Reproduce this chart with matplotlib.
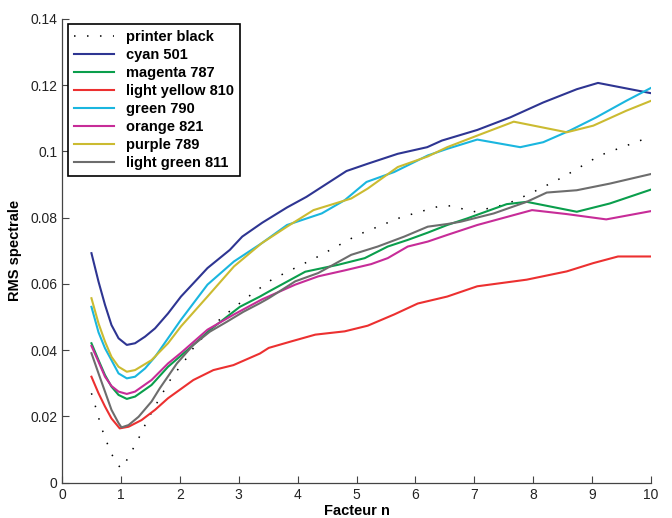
import numpy as np
import matplotlib.pyplot as plt

plt.rcParams['font.family'] = ['Liberation Sans', 'DejaVu Sans']

# printer black (dotted)
black_x = [0.5, 0.56, 0.67, 0.81, 0.9, 1.0, 1.08, 1.28, 1.45, 1.65, 1.86, 2.09, 2.2, 2.6, 2.91, 3.24, 3.56,
           4.35, 5.02, 5.75, 6.37, 6.6, 6.99, 7.55, 7.95, 8.51, 9.13, 10]
black_y = [0.027, 0.0235, 0.0166, 0.0099, 0.0066, 0.0043, 0.0062, 0.0126, 0.0189, 0.0253, 0.0317, 0.037,
           0.040, 0.0481, 0.0527, 0.0572, 0.0613, 0.0683, 0.0748, 0.0801, 0.0833, 0.0836, 0.0818, 0.0841,
           0.0873, 0.0923, 0.0988, 0.1045]

cyan_x = [0.5, 0.62, 0.73, 0.84, 0.96, 1.1, 1.24, 1.41, 1.58, 1.8, 2.02, 2.23, 2.47, 2.85, 3.06, 3.4, 3.82,
          4.15, 4.83, 5.19, 5.7, 6.2, 6.45, 7.05, 7.61, 8.17, 8.74, 9.1, 10]
cyan_y = [0.0693, 0.0607, 0.0537, 0.0476, 0.0436, 0.0416, 0.0421, 0.0441, 0.0466, 0.0511, 0.0562, 0.0602,
          0.0648, 0.0703, 0.0743, 0.0785, 0.0831, 0.0863, 0.0941, 0.0963, 0.0993, 0.1013, 0.1033, 0.1065,
          0.1103, 0.1148, 0.1188, 0.1207, 0.1176]

magenta_x = [0.5, 0.62, 0.73, 0.84, 0.96, 1.1, 1.24, 1.52, 1.8, 2.23, 2.51, 2.8, 3.02, 3.36, 3.51, 4.13,
             4.69, 5.14, 5.53, 5.87, 6.21, 6.54, 6.88, 7.55, 7.89, 8.74, 9.3, 10]
magenta_y = [0.0421, 0.037, 0.0325, 0.029, 0.0265, 0.0253, 0.026, 0.0295, 0.035, 0.0416, 0.0461, 0.0501,
             0.0531, 0.0562, 0.0577, 0.0637, 0.0658, 0.0678, 0.0713, 0.0733, 0.0755, 0.0778, 0.0798, 0.0841,
             0.0848, 0.0818, 0.0843, 0.0885]

lyellow_x = [0.5, 0.62, 0.73, 0.84, 0.98, 1.13, 1.35, 1.58, 1.8, 2.23, 2.57, 2.91, 3.36, 3.51, 3.9, 4.3,
             4.8, 5.19, 5.64, 6.04, 6.54, 7.05, 7.89, 8.57, 9.02, 9.44, 10]
lyellow_y = [0.032, 0.027, 0.023, 0.0194, 0.0164, 0.0169, 0.0189, 0.022, 0.0255, 0.031, 0.034, 0.0355,
             0.039, 0.0407, 0.0427, 0.0447, 0.0457, 0.0474, 0.0508, 0.0541, 0.0562, 0.0593, 0.0613, 0.0638,
             0.0663, 0.0683, 0.0683]

green_x = [0.5, 0.62, 0.73, 0.84, 0.96, 1.1, 1.24, 1.41, 1.58, 2.02, 2.47, 2.92, 3.39, 3.82, 4.41, 4.8,
           5.17, 5.64, 6.21, 6.54, 7.05, 7.78, 8.17, 8.62, 9.07, 9.58, 10]
green_y = [0.0531, 0.0454, 0.0406, 0.037, 0.033, 0.0315, 0.032, 0.0345, 0.038, 0.0492, 0.0598, 0.0668,
           0.0723, 0.0778, 0.0813, 0.0853, 0.0908, 0.0938, 0.0988, 0.1008, 0.1036, 0.1013, 0.1028, 0.1063,
           0.1103, 0.1153, 0.1192]

orange_x = [0.5, 0.62, 0.73, 0.84, 0.96, 1.1, 1.24, 1.52, 1.8, 2.02, 2.47, 2.92, 3.39, 3.96, 4.35, 4.8,
            5.25, 5.53, 5.87, 6.21, 6.54, 7.05, 7.98, 8.57, 9.24, 10]
orange_y = [0.0413, 0.0365, 0.032, 0.0292, 0.0275, 0.0268, 0.0275, 0.031, 0.036, 0.0392, 0.0462, 0.0508,
            0.0553, 0.0598, 0.0623, 0.0641, 0.066, 0.0678, 0.0713, 0.0728, 0.0748, 0.0778, 0.0823, 0.0811,
            0.0795, 0.082]

purple_x = [0.5, 0.62, 0.73, 0.84, 0.96, 1.1, 1.24, 1.52, 1.8, 2.02, 2.47, 2.92, 3.39, 3.82, 4.27, 4.91,
            5.19, 5.7, 6.21, 6.54, 7.05, 7.67, 8.57, 9.02, 9.58, 10]
purple_y = [0.0557, 0.0481, 0.0426, 0.038, 0.035, 0.0335, 0.034, 0.037, 0.0421, 0.0472, 0.0562, 0.0653,
            0.0723, 0.0773, 0.0823, 0.0858, 0.0888, 0.0953, 0.0985, 0.1013, 0.1048, 0.109, 0.1058, 0.1078,
            0.1123, 0.1153]

lgreen_x = [0.5, 0.62, 0.73, 0.84, 0.96, 1.01, 1.13, 1.3, 1.52, 1.66, 1.95, 2.23, 2.51, 2.8, 3.08, 3.36,
            3.51, 3.96, 4.35, 4.91, 5.36, 5.81, 6.21, 6.54, 6.77, 7.33, 7.89, 8.23, 8.74, 9.3, 10]
lgreen_y = [0.0391, 0.033, 0.0275, 0.022, 0.018, 0.0167, 0.0174, 0.0199, 0.0245, 0.0285, 0.036, 0.0416,
            0.0456, 0.0486, 0.0516, 0.0542, 0.0557, 0.0608, 0.0633, 0.0688, 0.0713, 0.0743, 0.0773, 0.0781,
            0.0788, 0.0813, 0.0848, 0.0876, 0.0883, 0.0903, 0.0932]

fig = plt.figure(figsize=(6.72, 5.18), dpi=100)
ax = fig.add_axes([62 / 672, (518 - 482.7) / 518, 589 / 672, 463.7 / 518])

lw = 1.5
ax.plot(black_x, black_y, color='black', lw=1.1, linestyle=(0, (1.0, 7.5)), label='printer black')
ax.plot(cyan_x, cyan_y, color='#2e3592', lw=lw, label='cyan 501')
ax.plot(magenta_x, magenta_y, color='#0a9e4c', lw=lw, label='magenta 787')
ax.plot(lyellow_x, lyellow_y, color='#ec3030', lw=lw, label='light yellow 810')
ax.plot(green_x, green_y, color='#1ab6df', lw=lw, label='green 790')
ax.plot(orange_x, orange_y, color='#c72c98', lw=lw, label='orange 821')
ax.plot(purple_x, purple_y, color='#cbbb31', lw=lw, label='purple 789')
ax.plot(lgreen_x, lgreen_y, color='#6d6d6d', lw=lw, label='light green 811')

ax.set_xlim(0, 10)
ax.set_ylim(0, 0.14)
ax.set_xticks(range(0, 11))
ax.set_yticks([0, 0.02, 0.04, 0.06, 0.08, 0.1, 0.12, 0.14])
ax.set_yticklabels(['0', '0.02', '0.04', '0.06', '0.08', '0.1', '0.12', '0.14'])
ax.tick_params(direction='in', length=5, width=0.8, colors='#444444', labelsize=10, labelcolor='#222222')
for s in ['top', 'right']:
    ax.spines[s].set_visible(False)
for s in ['left', 'bottom']:
    ax.spines[s].set_color('#444444')
    ax.spines[s].set_linewidth(0.9)

ax.set_xlabel('Facteur n', fontsize=10.5, fontweight='bold', labelpad=2)
ax.set_ylabel('RMS spectrale', fontsize=10.5, fontweight='bold', labelpad=6)

leg = ax.legend(loc='upper left', bbox_to_anchor=(0.0097, 0.9886), borderaxespad=0,
                prop={'size': 10.5, 'weight': 'bold'}, handlelength=2.8, labelspacing=0.27,
                fancybox=False, framealpha=1, edgecolor='black', borderpad=0.4)
leg.get_frame().set_linewidth(1.2)

fig.savefig('out.png', dpi=100)
